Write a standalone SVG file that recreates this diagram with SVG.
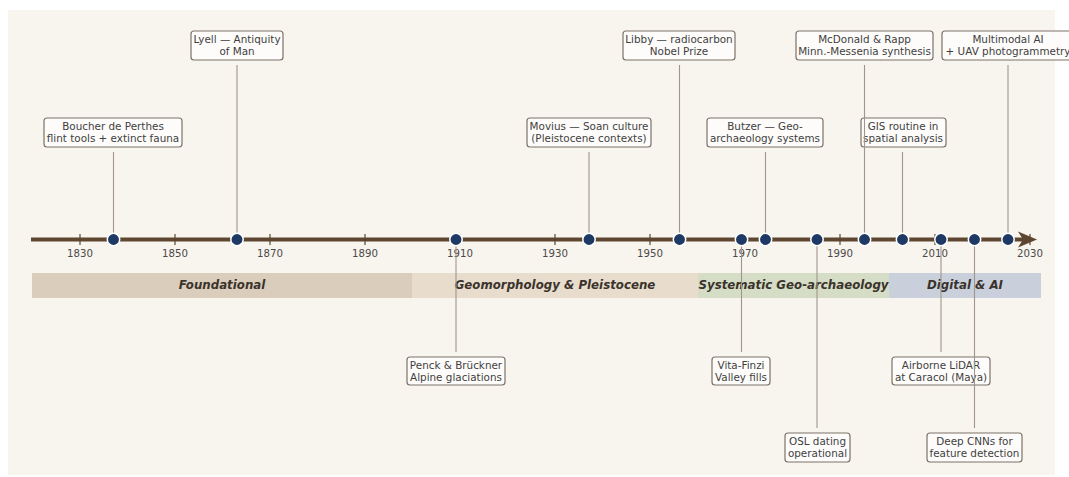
<svg xmlns="http://www.w3.org/2000/svg" width="1069" height="477" viewBox="0 0 1069 477">
<style>
text{font-family:"DejaVu Sans","Liberation Sans",sans-serif;}
.lbl{font-size:10.4px;fill:#3f3f3f;text-anchor:middle;}
.yr{font-size:10.2px;fill:#4a4a4a;text-anchor:middle;}
.band{font-size:11.8px;font-weight:bold;font-style:italic;fill:#3a332c;text-anchor:middle;}
.box{fill:#fdfcfa;stroke:#7d7268;stroke-width:1.2;}
.conn{stroke:#a0968b;stroke-width:1.1;fill:none;}
.tick{stroke:#5e4630;stroke-width:1.2;}
.dot{fill:#1e3a64;stroke:#ffffff;stroke-width:1.5;}
</style>
<rect x="0" y="0" width="1069" height="477" fill="#ffffff"/>
<rect x="8" y="10" width="1047" height="465" fill="#f8f5ee"/>
<g id="bands">
<rect x="32" y="273" width="380" height="25" fill="#dacdbb"/>
<rect x="412" y="273" width="286" height="25" fill="#e8dccd"/>
<rect x="698" y="273" width="191" height="25" fill="#d6ddc6"/>
<rect x="889" y="273" width="152" height="25" fill="#c9d0dc"/>
<text class="band" x="222" y="288.5">Foundational</text>
<text class="band" x="555" y="288.5">Geomorphology &amp; Pleistocene</text>
<text class="band" x="793.5" y="288.5">Systematic Geo-archaeology</text>
<text class="band" x="965" y="288.5">Digital &amp; AI</text>
</g>
<g id="axis">
<line x1="31" y1="239.5" x2="1024" y2="239.5" stroke="#5e4630" stroke-width="4"/>
<polygon points="1037,239.5 1018,231.5 1023,239.5 1018,247.5" fill="#5e4630"/>
<line class="tick" x1="80" y1="234" x2="80" y2="245"/>
<line class="tick" x1="175" y1="234" x2="175" y2="245"/>
<line class="tick" x1="270" y1="234" x2="270" y2="245"/>
<line class="tick" x1="365" y1="234" x2="365" y2="245"/>
<line class="tick" x1="460" y1="234" x2="460" y2="245"/>
<line class="tick" x1="555" y1="234" x2="555" y2="245"/>
<line class="tick" x1="650" y1="234" x2="650" y2="245"/>
<line class="tick" x1="745" y1="234" x2="745" y2="245"/>
<line class="tick" x1="840" y1="234" x2="840" y2="245"/>
<line class="tick" x1="935" y1="234" x2="935" y2="245"/>
<line class="tick" x1="1030" y1="234" x2="1030" y2="245"/>
<text class="yr" x="80" y="257">1830</text>
<text class="yr" x="175" y="257">1850</text>
<text class="yr" x="270" y="257">1870</text>
<text class="yr" x="365" y="257">1890</text>
<text class="yr" x="460" y="257">1910</text>
<text class="yr" x="555" y="257">1930</text>
<text class="yr" x="650" y="257">1950</text>
<text class="yr" x="745" y="257">1970</text>
<text class="yr" x="840" y="257">1990</text>
<text class="yr" x="935" y="257">2010</text>
<text class="yr" x="1030" y="257">2030</text>
</g>
<g id="n-boucher"><rect class="box" x="44" y="118" width="138" height="29" rx="3"/><text class="lbl" x="113" y="130">Boucher de Perthes</text><text class="lbl" x="113" y="141.5">flint tools + extinct fauna</text></g>
<g id="n-lyell"><rect class="box" x="191" y="31" width="92" height="29" rx="3"/><text class="lbl" x="237" y="43">Lyell — Antiquity</text><text class="lbl" x="237" y="54.5">of Man</text></g>
<g id="n-penck"><rect class="box" x="407" y="357" width="98" height="28" rx="3"/><text class="lbl" x="456" y="369">Penck &amp; Brückner</text><text class="lbl" x="456" y="380.5">Alpine glaciations</text></g>
<g id="n-movius"><rect class="box" x="527" y="118" width="124" height="29" rx="3"/><text class="lbl" x="589" y="130">Movius — Soan culture</text><text class="lbl" x="589" y="141.5">(Pleistocene contexts)</text></g>
<g id="n-libby"><rect class="box" x="623" y="31" width="112" height="29" rx="3"/><text class="lbl" x="679" y="43">Libby — radiocarbon</text><text class="lbl" x="679" y="54.5">Nobel Prize</text></g>
<g id="n-vitafinzi"><rect class="box" x="712" y="357" width="58" height="28" rx="3"/><text class="lbl" x="741" y="369">Vita-Finzi</text><text class="lbl" x="741" y="380.5">Valley fills</text></g>
<g id="n-butzer"><rect class="box" x="707" y="118" width="116" height="29" rx="3"/><text class="lbl" x="765" y="130">Butzer — Geo-</text><text class="lbl" x="765" y="141.5">archaeology systems</text></g>
<g id="n-osl"><rect class="box" x="785" y="433" width="65" height="29" rx="3"/><text class="lbl" x="817.5" y="445">OSL dating</text><text class="lbl" x="817.5" y="456.5">operational</text></g>
<g id="n-mcdonald"><rect class="box" x="796" y="31" width="137" height="29" rx="3"/><text class="lbl" x="864.5" y="43">McDonald &amp; Rapp</text><text class="lbl" x="864.5" y="54.5">Minn.-Messenia synthesis</text></g>
<g id="n-gis"><rect class="box" x="861" y="118" width="85" height="29" rx="3"/><text class="lbl" x="903" y="130">GIS routine in</text><text class="lbl" x="903" y="141.5">spatial analysis</text></g>
<g id="n-lidar"><rect class="box" x="892" y="357" width="98" height="28" rx="3"/><text class="lbl" x="941" y="369">Airborne LiDAR</text><text class="lbl" x="941" y="380.5">at Caracol (Maya)</text></g>
<g id="n-cnn"><rect class="box" x="927" y="433" width="95" height="29" rx="3"/><text class="lbl" x="974.5" y="445">Deep CNNs for</text><text class="lbl" x="974.5" y="456.5">feature detection</text></g>
<g id="n-multimodal"><rect class="box" x="942" y="31" width="132" height="29" rx="3"/><text class="lbl" x="1008" y="43">Multimodal AI</text><text class="lbl" x="1008" y="54.5">+ UAV photogrammetry</text></g>
<g id="connectors">
<line class="conn" x1="113.5" y1="152" x2="113.5" y2="239"/>
<line class="conn" x1="237" y1="65" x2="237" y2="239"/>
<line class="conn" x1="456" y1="239" x2="456" y2="352"/>
<line class="conn" x1="589" y1="152" x2="589" y2="239"/>
<line class="conn" x1="679.5" y1="65" x2="679.5" y2="239"/>
<line class="conn" x1="741.5" y1="239" x2="741.5" y2="352"/>
<line class="conn" x1="765.5" y1="152" x2="765.5" y2="239"/>
<line class="conn" x1="817" y1="239" x2="817" y2="428"/>
<line class="conn" x1="864.5" y1="65" x2="864.5" y2="239"/>
<line class="conn" x1="902.5" y1="152" x2="902.5" y2="239"/>
<line class="conn" x1="941" y1="239" x2="941" y2="352"/>
<line class="conn" x1="974.5" y1="239" x2="974.5" y2="428"/>
<line class="conn" x1="1008" y1="65" x2="1008" y2="239"/>
</g>
<g id="dots">
<circle class="dot" cx="113.5" cy="239.5" r="6.2"/>
<circle class="dot" cx="237" cy="239.5" r="6.2"/>
<circle class="dot" cx="456" cy="239.5" r="6.2"/>
<circle class="dot" cx="589" cy="239.5" r="6.2"/>
<circle class="dot" cx="679.5" cy="239.5" r="6.2"/>
<circle class="dot" cx="741.5" cy="239.5" r="6.2"/>
<circle class="dot" cx="765.5" cy="239.5" r="6.2"/>
<circle class="dot" cx="817" cy="239.5" r="6.2"/>
<circle class="dot" cx="864.5" cy="239.5" r="6.2"/>
<circle class="dot" cx="902.5" cy="239.5" r="6.2"/>
<circle class="dot" cx="941" cy="239.5" r="6.2"/>
<circle class="dot" cx="974.5" cy="239.5" r="6.2"/>
<circle class="dot" cx="1008" cy="239.5" r="6.2"/>
</g>
</svg>
